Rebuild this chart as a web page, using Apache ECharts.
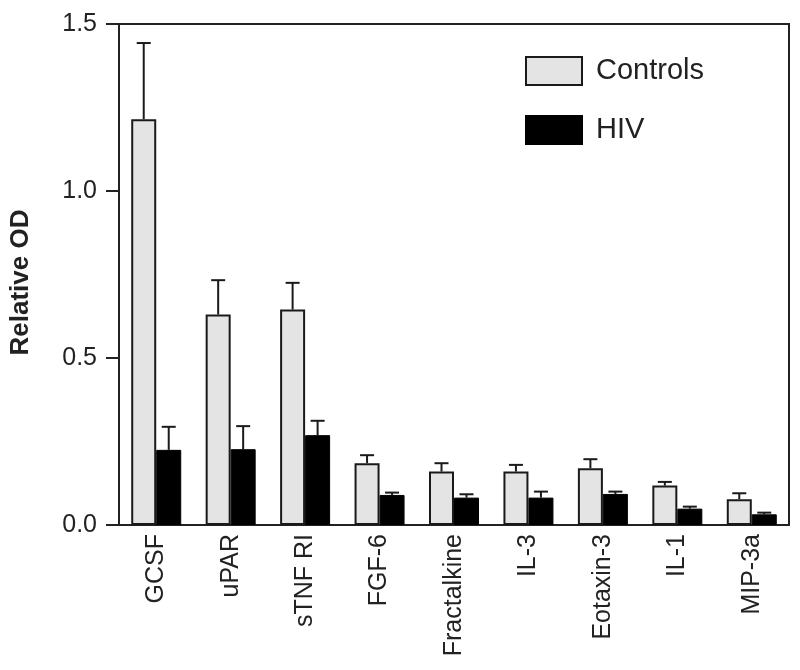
<!DOCTYPE html>
<html>
<head>
<meta charset="utf-8">
<script src="https://cdn.jsdelivr.net/npm/echarts@6/dist/echarts.min.js"></script>
<style>
  html, body { margin: 0; padding: 0; background: #fff; }
  #chart { width: 800px; height: 670px; }
</style>
</head>
<body>
<div id="chart"></div>
<script>
const categories = ["GCSF", "uPAR", "sTNF RI", "FGF-6", "Fractalkine", "IL-3", "Eotaxin-3", "IL-1", "MIP-3a"];
const controls = [1.215, 0.63, 0.645, 0.185, 0.16, 0.16, 0.17, 0.118, 0.077];
const controlsErr = [0.228, 0.103, 0.08, 0.024, 0.025, 0.02, 0.027, 0.011, 0.018];
const hiv = [0.225, 0.227, 0.269, 0.09, 0.082, 0.082, 0.093, 0.049, 0.032];
const hivErr = [0.069, 0.069, 0.043, 0.007, 0.01, 0.018, 0.007, 0.006, 0.005];
const yTicks = [0, 0.5, 1.0, 1.5];

const FONT = "Liberation Sans";
const BAR_W = 25;

const chart = echarts.init(document.getElementById("chart"));

// error bar (up only) with a cap, offset to sit over its bar
const errorSeries = (name, means, errs, side) => ({
  name: name + " err",
  type: "custom",
  silent: true,
  z: 1,
  data: means.map((m, i) => [i, m, m + errs[i]]),
  renderItem: (params, api) => {
    const bottom = api.coord([api.value(0), api.value(1)]);
    const top = api.coord([api.value(0), api.value(2)]);
    const x = bottom[0] + side * BAR_W / 2;
    const cap = 7;
    const style = { stroke: "#1a1a1a", lineWidth: 2 };
    return {
      type: "group",
      children: [
        { type: "line", shape: { x1: x, y1: bottom[1], x2: x, y2: top[1] }, style },
        { type: "line", shape: { x1: x - cap, y1: top[1], x2: x + cap, y2: top[1] }, style },
      ],
    };
  },
});

const option = {
  animation: false,
  grid: {
    left: 118,
    right: 11,
    top: 24,
    bottom: 145,
    show: true,
    borderColor: "#222",
    borderWidth: 2,
  },
  legend: {
    left: 525,
    top: 56,
    padding: 0,
    orient: "vertical",
    itemWidth: 56,
    itemHeight: 28,
    itemGap: 29,
    icon: "rect",
    data: ["Controls", "HIV"],
    textStyle: { fontFamily: FONT, fontSize: 29, color: "#222", padding: [0, 0, 0, 9] },
  },
  xAxis: {
    type: "category",
    data: categories,
    axisLine: { lineStyle: { color: "#222", width: 2 } },
    axisTick: { show: false },
    axisLabel: {
      rotate: 90,
      interval: 0,
      margin: 9,
      fontFamily: FONT,
      fontSize: 25,
      color: "#222",
    },
  },
  yAxis: {
    type: "value",
    min: yTicks[0],
    max: yTicks[yTicks.length - 1],
    interval: 0.5,
    name: "Relative OD",
    nameLocation: "middle",
    nameGap: 85,
    nameTextStyle: {
      fontFamily: FONT,
      fontSize: 26,
      fontWeight: "bold",
      color: "#222",
      padding: [0, 16, 0, 0],
    },
    axisLine: { show: true, lineStyle: { color: "#222", width: 2 } },
    axisTick: { show: true, length: 13, lineStyle: { color: "#222", width: 2 } },
    splitLine: { show: false },
    axisLabel: {
      margin: 22,
      fontFamily: FONT,
      fontSize: 25,
      color: "#222",
      formatter: (v) => v.toFixed(1),
    },
  },
  series: [
    {
      name: "Controls",
      type: "bar",
      barWidth: BAR_W,
      barGap: 0,
      z: 2,
      data: controls,
      itemStyle: { color: "#e4e4e4", borderColor: "#1a1a1a", borderWidth: 2 },
    },
    {
      name: "HIV",
      type: "bar",
      barWidth: BAR_W,
      barGap: 0,
      z: 2,
      data: hiv,
      itemStyle: { color: "#000", borderColor: "#000", borderWidth: 1 },
    },
    errorSeries("Controls", controls, controlsErr, -1),
    errorSeries("HIV", hiv, hivErr, 1),
  ],
};

chart.setOption(option);
</script>
</body>
</html>
